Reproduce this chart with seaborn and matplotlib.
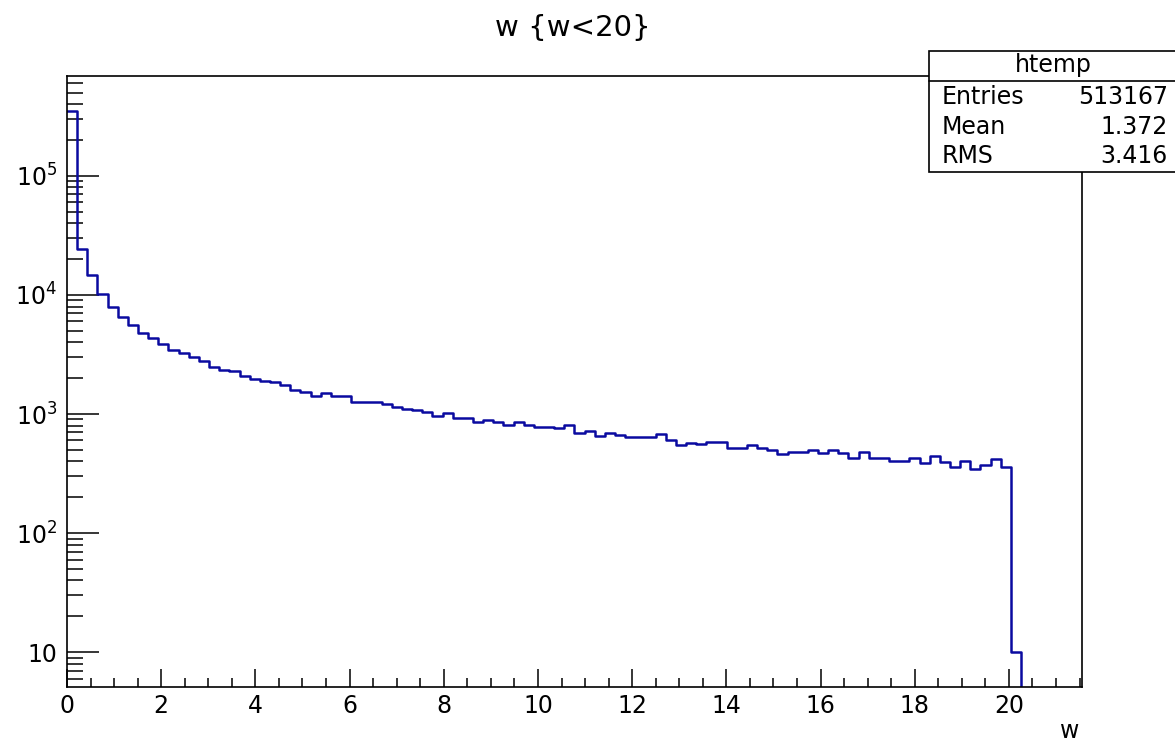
import numpy as np
import pandas as pd
import matplotlib
matplotlib.use("Agg")
import matplotlib.pyplot as plt
from matplotlib.patches import Rectangle
from matplotlib.lines import Line2D
from matplotlib.ticker import MultipleLocator, LogLocator, FuncFormatter, NullFormatter
import seaborn as sns

# histogram binning (ROOT auto binning of htemp)
x_lo, x_hi, n_bins = 0.0, 21.55, 100

# bin contents, bins 0..93 (the rest are empty)
counts = [
    352000, 24300, 14600, 10200, 8000, 6500, 5560, 4830, 4380, 3880,
    3480, 3270, 3000, 2810, 2490, 2360, 2290, 2080, 1980, 1910,
    1850, 1740, 1600, 1540, 1430, 1500, 1430, 1430, 1260, 1260,
    1260, 1220, 1150, 1110, 1080, 1050, 968, 1030, 931, 931,
    861, 889, 861, 802, 861, 807, 782, 782, 757, 802,
    692, 719, 653, 692, 670, 636, 636, 636, 674, 604,
    548, 574, 559, 582, 582, 515, 515, 546, 515, 499,
    458, 483, 483, 499, 474, 499, 474, 430, 483, 430,
    430, 406, 406, 427, 391, 442, 398, 359, 406, 347,
    371, 416, 359, 10,
]

title = "w {w<20}"
x_label = "w"
hist_name = "htemp"
stat_names = ["Entries", "Mean", "RMS"]
stat_values = ["513167", "1.372", "3.416"]

edges = np.linspace(x_lo, x_hi, n_bins + 1)
width = edges[1] - edges[0]
full_counts = counts + [0] * (n_bins - len(counts))
df = pd.DataFrame({"w": edges[:-1] + width / 2, "n": full_counts})

sns.set_theme(style="white")
plt.rcParams["font.family"] = ["DejaVu Sans"]
plt.rcParams["text.color"] = "black"
plt.rcParams["xtick.color"] = "black"
plt.rcParams["ytick.color"] = "black"

fig = plt.figure(figsize=(11.75, 7.41), dpi=100)
ax = fig.add_axes([0.057, 0.0729, 0.8638, 0.8245])

sns.histplot(data=df, x="w", weights="n", bins=edges.tolist(), element="step",
             fill=False, color="#0a0aa0", linewidth=1.8, ax=ax)
ax.set_yscale("log")
ax.set_xlim(x_lo, x_hi)
ax.set_ylim(5.1, 6.9e5)
ax.set_xlabel("")
ax.set_ylabel("")

for s in ax.spines.values():
    s.set_color("black")
    s.set_linewidth(1.2)

ax.xaxis.set_major_locator(MultipleLocator(2))
ax.xaxis.set_minor_locator(MultipleLocator(0.5))
ax.yaxis.set_major_locator(LogLocator(base=10, numticks=12))
ax.yaxis.set_minor_locator(LogLocator(base=10, subs=np.arange(2, 10), numticks=30))


def log_label(v, pos):
    e = int(round(np.log10(v)))
    if e == 1:
        return "10"
    return r"$\mathregular{10^{%d}}$" % e


ax.yaxis.set_major_formatter(FuncFormatter(log_label))
ax.yaxis.set_minor_formatter(NullFormatter())
ax.tick_params(axis="y", which="major", direction="in", length=23, width=1.1,
               left=True, right=False, labelsize=17, pad=7)
ax.tick_params(axis="y", which="minor", direction="in", length=11.5, width=1.1,
               left=True, right=False)
ax.tick_params(axis="x", which="major", direction="in", length=13, width=1.1,
               bottom=True, top=False, labelsize=17, pad=5)
ax.tick_params(axis="x", which="minor", direction="in", length=6.5, width=1.1,
               bottom=True, top=False)

fig.text(573 / 1175, 1 - 28 / 741, title, ha="center", va="center", fontsize=21)
fig.text(1070 / 1175, 1 - 731 / 741, x_label, ha="center", va="center", fontsize=17)

# stats box
bx0, by_top, by_bot, by_sep = 929 / 1175, 1 - 50.7 / 741, 1 - 171.7 / 741, 1 - 81 / 741
fig.add_artist(Rectangle((bx0, by_bot), 1.05 - bx0, by_top - by_bot,
                         transform=fig.transFigure, facecolor="white",
                         edgecolor="black", linewidth=1.2, zorder=5))
fig.add_artist(Line2D([bx0, 1.0], [by_sep, by_sep], transform=fig.transFigure,
                      color="black", linewidth=1.2, zorder=6))
fig.text(1053 / 1175, 1 - 65 / 741, hist_name, ha="center", va="center",
         fontsize=17, zorder=7)
row_y = [97, 127, 156]
for name, val, yy in zip(stat_names, stat_values, row_y):
    fig.text(942 / 1175, 1 - yy / 741, name, ha="left", va="center", fontsize=17, zorder=7)
    fig.text(1168 / 1175, 1 - yy / 741, val, ha="right", va="center", fontsize=17, zorder=7)

fig.savefig("out.png", dpi=100)
